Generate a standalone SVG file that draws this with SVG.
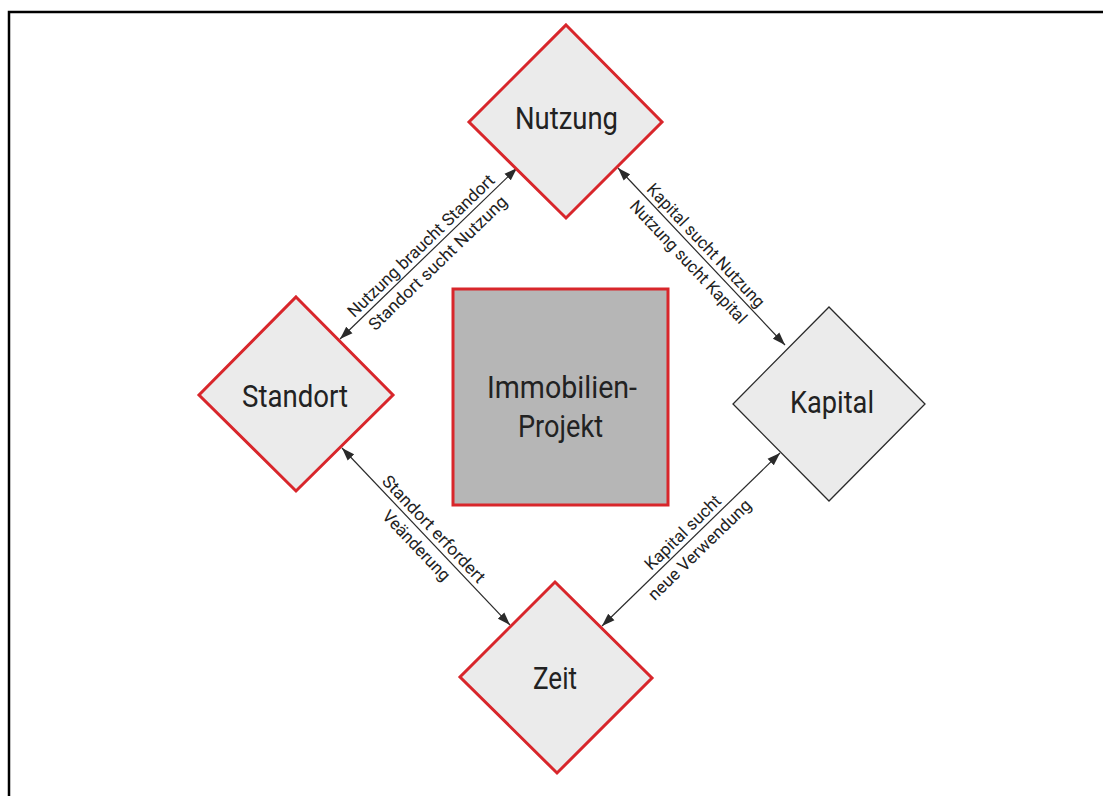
<svg xmlns="http://www.w3.org/2000/svg" width="1103" height="796" viewBox="0 0 1103 796">
<style>
.red{fill:#ebebeb;stroke:#d8262b;stroke-width:3;stroke-linejoin:miter}
.blk{fill:#ebebeb;stroke:#2a2a2a;stroke-width:1.3}
.sq{fill:#b6b6b6;stroke:#d8262b;stroke-width:3}
.nl{font-family:Roboto,"Open Sans",sans-serif;font-size:32px;fill:#222;text-anchor:middle}
.el{font-family:Roboto,"Open Sans",sans-serif;font-size:17px;fill:#222;text-anchor:middle}
.cn{stroke:#2a2a2a;stroke-width:1.2;fill:none;marker-start:url(#ah);marker-end:url(#ah)}
</style>
<defs>
<marker id="ah" markerUnits="userSpaceOnUse" markerWidth="13" markerHeight="10" refX="13" refY="5" orient="auto-start-reverse">
<path d="M0,0.5 L13,5 L0,9.5 z" fill="#2a2a2a"/>
</marker>
</defs>
<rect x="0" y="0" width="1103" height="796" fill="#ffffff"/>
<g id="frame">
<path d="M9,796 L9,12 L1103,12" fill="none" stroke="#000" stroke-width="2.5"/>
</g>
<g id="connectors">
<line class="cn" x1="340" y1="339" x2="517" y2="168"/>
<line class="cn" x1="618" y1="168" x2="785" y2="345"/>
<line class="cn" x1="342" y1="448" x2="510" y2="625"/>
<line class="cn" x1="602" y1="626" x2="780" y2="453"/>
<g transform="translate(428.5,253.5) rotate(-44)">
<text class="el" x="0" y="-5" textLength="197" lengthAdjust="spacingAndGlyphs">Nutzung braucht Standort</text>
<text class="el" x="0" y="19" textLength="185" lengthAdjust="spacingAndGlyphs">Standort sucht Nutzung</text>
</g>
<g transform="translate(701.5,256.5) rotate(46.7)">
<text class="el" x="-5" y="-5" textLength="163" lengthAdjust="spacingAndGlyphs">Kapital sucht Nutzung</text>
<text class="el" x="-5" y="19" textLength="162" lengthAdjust="spacingAndGlyphs">Nutzung sucht Kapital</text>
</g>
<g transform="translate(426,536.5) rotate(46.5)">
<text class="el" x="0" y="-5" textLength="141" lengthAdjust="spacingAndGlyphs">Standort erfordert</text>
<text class="el" x="0" y="19" textLength="90" lengthAdjust="spacingAndGlyphs">Veänderung</text>
</g>
<g transform="translate(691,539.5) rotate(-44.2)">
<text class="el" x="-1" y="-5" textLength="99" lengthAdjust="spacingAndGlyphs">Kapital sucht</text>
<text class="el" x="-1" y="19" textLength="136" lengthAdjust="spacingAndGlyphs">neue Verwendung</text>
</g>
</g>
<g id="projekt">
<rect class="sq" x="453" y="289" width="215" height="216"/>
<text class="nl" x="562" y="398" textLength="150" lengthAdjust="spacingAndGlyphs">Immobilien-</text>
<text class="nl" x="560.5" y="437" textLength="85" lengthAdjust="spacingAndGlyphs">Projekt</text>
</g>
<g id="nutzung">
<path class="red" d="M566,25 L662,122 L566,218 L469,122 Z"/>
<text class="nl" x="566.5" y="129" textLength="103" lengthAdjust="spacingAndGlyphs">Nutzung</text>
</g>
<g id="standort">
<path class="red" d="M296,297 L393,395 L296,491 L199,395 Z"/>
<text class="nl" x="295" y="407" textLength="106" lengthAdjust="spacingAndGlyphs">Standort</text>
</g>
<g id="kapital">
<path class="blk" d="M829,307 L925,404 L829,501 L733,404 Z"/>
<text class="nl" x="832" y="413" textLength="84" lengthAdjust="spacingAndGlyphs">Kapital</text>
</g>
<g id="zeit">
<path class="red" d="M555,582 L652,678 L557,773 L460,677 Z"/>
<text class="nl" x="555" y="689" textLength="44" lengthAdjust="spacingAndGlyphs">Zeit</text>
</g>
</svg>
